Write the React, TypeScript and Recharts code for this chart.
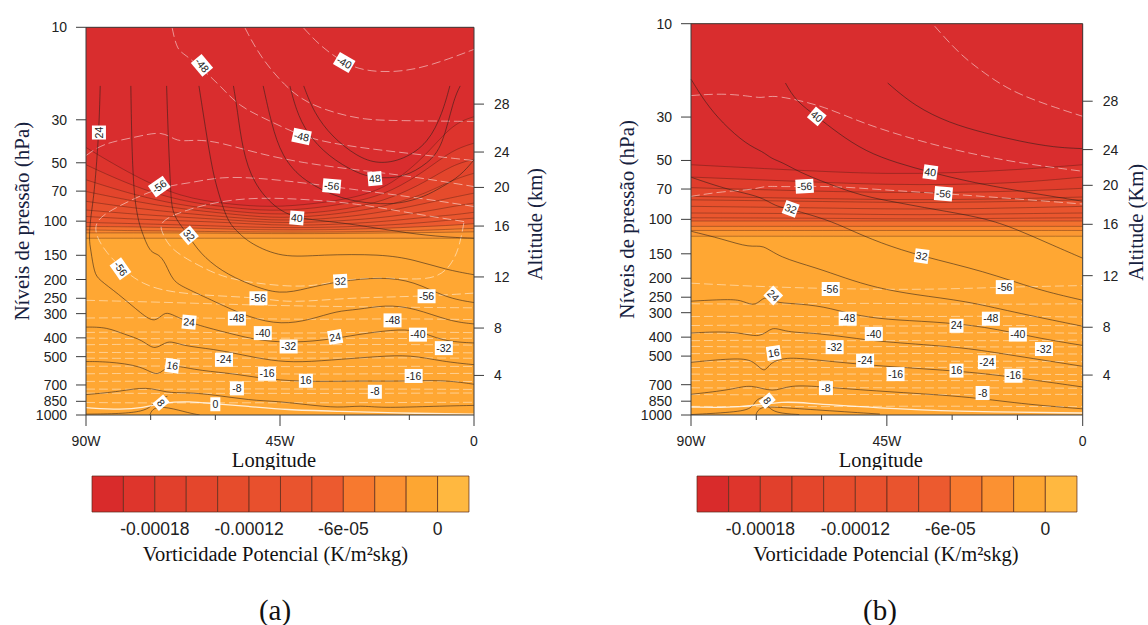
import * as React from 'react';
import { ComposedChart, BarChart, Area, Line, Bar, Cell, XAxis, YAxis } from 'recharts';

type Pt = [number, number];

const pressureTicks = [10, 30, 50, 70, 100, 150, 200, 250, 300, 400, 500, 700, 850, 1000];
const altitudeLabels = [4, 8, 12, 16, 20, 24, 28];
const altitudePressures = [625, 356, 194, 106, 67, 44, 24.9];
const lonTicks = [-90, -75, -60, -45, -30, -15, 0];
const lonNames: Record<number, string> = { [-90]: '90W', [-45]: '45W', 0: '0' };

const bandColors = ['#FB9832', '#F9862F', '#F3712F', '#EC5A2F', '#EA562E', '#E9542E', '#E7502D', '#E54B2C', '#E3452C', '#E03D2C', '#DD342D', '#D92D2E'];
const colorbarColors = ['#D92B2B', '#DE352C', '#E1402C', '#E4462C', '#E64C2C', '#E8502D', '#E9542E', '#EC5A2F', '#F7792F', '#FB9132', '#FDA632', '#FFB840'];
const colorbarLevels = [-0.00021, -0.00019, -0.00017, -0.00015, -0.00013, -0.00011, -0.00009, -0.00007, -0.00005, -0.00003, -0.00001, 0.00001];
const colorbarTicks = [-0.00018, -0.00012, -0.00006, 0];
const colorbarTickLabels = ['-0.00018', '-0.00012', '-6e-05', '0'];

// panel (a): PV band edges, listed deepest first
const bandLonA = [-90, -79, -68, -57, -47, -37, -27, -19, -11, -5, 0];
const bandsA = [
  [122.5, 122.5, 122.5, 122.5, 122.5, 122.5, 122.5, 122.5, 122.5, 122.5, 122.5],
  [115, 115, 115, 115.5, 116, 116, 115.5, 115, 114.5, 114, 113.5],
  [111, 112, 112.5, 113.5, 114, 114, 113.5, 112.5, 111.5, 110, 109],
  [106.5, 107, 108, 110, 111, 111, 110, 108.5, 106.5, 105, 103],
  [101.5, 103, 104.5, 106.5, 108, 108, 106.5, 104.5, 101.5, 98.4, 96.5],
  [94.6, 97.6, 99.6, 101.5, 105, 105, 102.5, 99.6, 95.3, 93, 90],
  [87.6, 92, 95.3, 98.4, 102, 101.5, 98.4, 94.6, 89, 84, 80.7],
  [79, 85.6, 90.9, 95.3, 99.2, 98.4, 93.8, 88, 80.7, 75.5, 71.7],
  [70.3, 79, 86.5, 91.6, 96.5, 94.6, 89, 82.3, 71.7, 61.2, 56.6],
  [61.2, 73.2, 83, 88.5, 92.7, 90.9, 85, 76, 62.4, 51.3, 47.9],
  [51.2, 66.3, 79, 85, 89, 86, 79.5, 70.3, 54.4, 42.9, 39.6],
  [41.7, 58.4, 75.5, 81.8, 85, 81.5, 75.5, 65, 45.5, 31.5, 28.9],
];

const thetaA: Pt[][] = [
  [[-86.7, 20.06], [-87, 34], [-87.7, 56.6], [-88.3, 77.6], [-89, 98.4], [-89.3, 124.8], [-88.9, 140], [-88.1, 185], [-87, 200.6], [-82.7, 235], [-76.9, 304], [-74, 335], [-71.9, 295], [-70.3, 300], [-66.1, 335], [-57, 378], [-49.1, 417], [-41.3, 423], [-33.8, 409], [-27.2, 385], [-18.9, 363], [-13.1, 363], [-7.3, 417], [0, 425]],
  [[-79.6, 20.06], [-79.4, 38.1], [-79.1, 56.6], [-78.7, 77.6], [-77.9, 98.4], [-77.2, 110.8], [-75.2, 146], [-73.2, 147], [-71.5, 165], [-69.9, 204], [-67, 221], [-60.3, 259], [-52, 316], [-44.6, 342], [-38, 323], [-31.7, 290], [-27.2, 287], [-20.6, 270], [-13.9, 280], [-5.6, 329], [0, 339]],
  [[-71.3, 20.06], [-70.9, 38.1], [-70.4, 66.3], [-70.1, 90.9], [-67.8, 106.5], [-66.1, 120], [-63.6, 146], [-58.7, 181], [-52, 213], [-45, 240], [-38.8, 222], [-31.3, 204], [-21.4, 194], [-13.9, 204], [-6.5, 249], [0, 263]],
  [[-63.8, 20.06], [-62.4, 31.9], [-60.6, 56.6], [-58.8, 77.6], [-57, 102], [-54.5, 115.3], [-52, 130], [-44.6, 155], [-35.5, 149], [-21.4, 148], [-13.9, 158], [-6.5, 178], [0, 189]],
  [[-55.8, 20.06], [-54.9, 26.6], [-53.7, 42.9], [-51.2, 63.8], [-46.2, 85.6], [-41.3, 96.6], [-33.8, 100], [-24.7, 106.5], [-15.6, 115.3], [-6.5, 121], [0, 122.5]],
  [[-48.9, 20.06], [-47, 31.4], [-44.6, 46.4], [-39.6, 62.4], [-30.5, 77.6], [-23, 81.5], [-17.2, 81.5], [-11.4, 74.8], [-7.3, 66.3], [-3.2, 58.6], [0, 48.3]],
  [[-42.7, 20.06], [-41.3, 26.6], [-38.8, 35.2], [-33.8, 46.4], [-27.2, 56.6], [-23, 60], [-16.4, 60], [-10.6, 50.2], [-7.3, 41.2], [-4.8, 23.7], [-3.2, 20.06]],
  [[-39.5, 20.06], [-37.1, 27.7], [-33, 36.6], [-27.2, 46.4], [-22.2, 50.9], [-16.4, 48.3], [-10.6, 39.6], [-7.3, 27.7], [-5.6, 20.06]],
  [[-90, 352], [-85.2, 352], [-81, 385], [-76.9, 409], [-74, 470], [-71.1, 406], [-67.8, 440], [-60.3, 457], [-53.7, 490], [-47, 525], [-40.4, 536], [-30.5, 515], [-22.2, 499], [-14.8, 489], [-7.3, 530], [0, 550]],
  [[-90, 530], [-85.2, 530], [-76.9, 557], [-73.2, 645], [-71.1, 540], [-65.3, 584], [-57, 608], [-52, 632], [-45.4, 663], [-35.5, 674], [-27.2, 666], [-17.2, 671], [-7.3, 658], [0, 694]],
  [[-90, 785], [-81.9, 756], [-76, 712], [-71.1, 771], [-67, 764], [-60.3, 786], [-52, 840], [-45.4, 850], [-38.8, 885], [-31.3, 920], [-26.4, 892], [-21.4, 920], [-10.6, 903], [0, 892]],
  [[-90, 990], [-81.9, 985], [-76.9, 958], [-74.8, 903], [-73.6, 834], [-71.1, 800]],
  [[-75.2, 1000], [-74.4, 910], [-71.1, 910], [-66.1, 977], [-63.6, 1000]],
];
const zeroLineA: Pt[] = [[-90, 917], [-81.9, 940], [-76.9, 920], [-71.9, 862], [-66.1, 850], [-60.3, 875], [-52, 903], [-43.8, 940], [-31.3, 958], [-18.9, 977], [0, 989]];

const pvDashA: Pt[][] = [
  [[-39.5, 10.1], [-35.5, 12.6], [-30.1, 15.3], [-25.5, 16.8], [-18.1, 17.1], [-10.6, 15.95], [0, 13]],
  [[-53.1, 10.1], [-49.6, 14.2], [-43.8, 20.2], [-38.8, 24.6], [-32.2, 27.7], [-25.5, 30], [-18.1, 30.3], [0, 30.6]],
  [[-70, 10.1], [-68.9, 13.1], [-67, 13.8], [-62.8, 16.6], [-58.7, 20.2], [-54.5, 25.6], [-47.9, 30], [-40, 36.6], [-31.3, 40.4], [-18.9, 43.8], [0, 48.7]],
  [[-90, 45.9], [-86, 39.6], [-78.6, 37], [-72.1, 34], [-69, 39.3], [-64.5, 37.8], [-58.7, 39.3], [-50.4, 44.6], [-39.6, 50.2], [-27.2, 54.4], [-14.8, 58.6], [0, 66.3]],
  [[0, 84], [-14.8, 74.8], [-27.2, 69], [-39.6, 63.3], [-49.6, 60], [-58.7, 58.8], [-66.1, 63.8], [-72.8, 66.3], [-81.9, 82.3], [-88.1, 98.4], [-87.7, 120], [-85.2, 146], [-81.9, 174], [-76.9, 213], [-70.3, 233], [-60.3, 243], [-50, 248], [-43.8, 262], [-35.5, 256], [-27.2, 248], [-11, 244], [0, 235]],
  [[-2.3, 100.5], [-14.8, 90.9], [-27.2, 81], [-39.6, 77], [-49.6, 75.5], [-58.7, 78.5], [-67, 87.6], [-73.2, 100.5], [-72.3, 115.3], [-70.3, 141], [-63.6, 171], [-57, 200.6], [-44.6, 217], [-37.1, 217], [-30.5, 200.6], [-20.6, 194], [-9, 205], [-4.8, 164], [-3.2, 130], [-2.3, 100.5]],
];

const dashLon = [-90, -72, -54, -36, -18, 0];
const lowDashA = [
  [256, 262, 270, 275, 278, 280],
  [316, 314, 318, 322, 318, 322],
  [375, 372, 378, 378, 372, 376],
  [401, 405, 403, 400, 404, 402],
  [434, 430, 436, 434, 432, 436],
  [475, 478, 472, 476, 474, 478],
  [509, 512, 508, 510, 506, 510],
  [561, 558, 562, 564, 560, 562],
  [613, 608, 612, 616, 612, 610],
  [671, 668, 672, 670, 666, 672],
  [735, 738, 732, 736, 734, 738],
  [771, 775, 772, 776, 772, 770],
  [862, 868, 864, 866, 862, 860],
];

// lon, pressure, text, rotation
const labelsA: [number, number, string, number][] = [
  [-63.1, 15.7, '-48', 50], [-30.1, 15.2, '-40', 30], [-87, 34.9, '24', -90], [-40, 36.6, '-48', 12],
  [-23, 60.4, '48', -5], [-33, 65.8, '-56', 5], [-73, 66.3, '-56', -35], [-41.1, 96.3, '40', 5],
  [-66.1, 118.5, '32', 50], [-82, 176, '-56', 55], [-31, 204, '32', -3], [-50, 250, '-56', 0],
  [-11, 244, '-56', 0], [-55, 318, '-48', 0], [-18.9, 325, '-48', 0], [-66.1, 332, '24', 5],
  [-32.2, 396, '24', -10], [-49, 378, '-40', 0], [-13, 385, '-40', 0], [-43, 443, '-32', 0],
  [-7, 452, '-32', 0], [-58, 519, '-24', 0], [-70, 557, '16', 8], [-48, 613, '-16', 0],
  [-14, 629, '-16', 0], [-39, 666, '16', 0], [-55, 729, '-8', 0], [-23, 759, '-8', 0],
  [-72.6, 865, '8', 50], [-60, 880, '0', 0],
];

// panel (b)
const bandLonB = [-90, -60, -45, -30, -15, 0];
const bandsB = [
  [122, 122, 122, 122, 122, 122],
  [114, 114, 114, 114, 114, 114],
  [108.6, 108.6, 108.6, 108.6, 108.6, 108.6],
  [102, 102, 102, 102, 102, 102],
  [98.2, 98.6, 99.5, 99.5, 98.6, 98.2],
  [92.8, 93.5, 94.7, 94.7, 93.5, 92.8],
  [85.8, 87.4, 88.6, 88.6, 87.4, 85.8],
  [79.5, 81, 82, 82, 81, 79.5],
  [76.3, 78.4, 79.3, 79.3, 78.4, 76.9],
  [68.9, 72, 72.9, 72.9, 72, 69.4],
  [60.8, 64.7, 66.5, 66.5, 65.2, 60.8],
  [52.6, 57, 58.6, 58, 55.8, 52.6],
];

const thetaB: Pt[][] = [
  [[-44.8, 20.1], [-38.6, 26.4], [-30.6, 32.2], [-22.6, 36.2], [-14.5, 39.9], [-6.5, 42.9], [0, 43.5]],
  [[-68.3, 20.1], [-65.9, 24.9], [-61.1, 29.75], [-56.3, 36.2], [-49.9, 45], [-42.6, 51.6], [-35, 57.4], [-26.6, 63.9], [-14.5, 71.8], [0, 80.8]],
  [[-90, 19.2], [-86.8, 25.1], [-82.8, 32.2], [-77.2, 41.5], [-73.5, 45], [-71.5, 49], [-69.1, 51], [-65.1, 57.4], [-58.7, 65.5], [-50.7, 76], [-42.6, 82], [-34.6, 88.6], [-22.6, 98.2], [-15.3, 112], [-8.1, 132], [0, 158]],
  [[-90, 60.9], [-81.2, 71], [-73.9, 76.3], [-70.7, 85.8], [-67.1, 88.6], [-58.7, 100.4], [-53.9, 112], [-46.6, 132], [-37, 154.6], [-22.6, 184], [-10.5, 229], [0, 259]],
  [[-90, 115], [-82.8, 126], [-76.3, 140], [-73.5, 134], [-69.9, 156], [-61.1, 177], [-54.7, 199.5], [-47.4, 224], [-38.6, 243], [-26.6, 262], [-16.9, 295], [0, 352]],
  [[-90, 262], [-80.4, 255], [-78, 262], [-75.1, 280], [-73.1, 243], [-70.7, 267], [-66.7, 269], [-59.5, 278], [-53, 307], [-45, 326], [-34.6, 333], [-22.6, 352], [-10.5, 404], [0, 441]],
  [[-90, 381], [-79.6, 371], [-73.9, 409], [-71.5, 349], [-68.3, 378], [-61.1, 381], [-53, 404], [-45, 425], [-28.2, 449], [-18.5, 486], [0, 564]],
  [[-90, 538], [-78.8, 509], [-75.5, 530], [-73.1, 615], [-72, 542], [-68.3, 505], [-61.9, 521], [-46.6, 564], [-26.6, 598], [-14.5, 647], [0, 719]],
  [[-90, 784], [-80.4, 742], [-76.3, 694], [-71.1, 772], [-67.5, 699], [-59.5, 719], [-46.6, 757], [-26.6, 803], [-14.5, 876], [0, 930]],
  [[-90, 995], [-78.8, 965], [-75.9, 920], [-75.1, 835], [-73.5, 812]],
  [[-75.1, 1000], [-74.3, 903], [-69.9, 913], [-62.7, 937], [-46.6, 989]],
  [[-72.3, 903], [-70.7, 977], [-65.1, 995]],
];
const zeroLineB: Pt[] = [[-90, 910], [-78.8, 920], [-68.3, 845], [-62.7, 876], [-46.6, 920], [-30.6, 958], [0, 977]];

const pvDashB: Pt[][] = [
  [[-34, 10.3], [-28.2, 14.4], [-22.6, 17.9], [-15.3, 23.1], [0, 29.75]],
  [[-90, 23.3], [-82.8, 22.7], [-76.3, 23.5], [-73.9, 24], [-71.5, 23.3], [-67.5, 24], [-59.5, 26.4], [-50.7, 32.2], [-38.6, 39.2], [-26.6, 45.8], [-14.5, 51.6], [0, 56.8]],
  [[-90, 76.3], [-82.8, 72], [-75.5, 70.5], [-73.1, 67.3], [-68.3, 68.4], [-58.7, 67.3], [-46.6, 70.5], [-34.6, 73.3], [-22.6, 76.3], [0, 83.5]],
];
const lowDashB = [
  [212, 222, 227, 229, 222, 218],
  [270, 272, 268, 270, 272, 270],
  [314, 312, 316, 314, 312, 316],
  [349, 346, 350, 352, 348, 350],
  [381, 384, 380, 382, 378, 382],
  [417, 414, 418, 416, 418, 414],
  [446, 450, 448, 446, 450, 448],
  [486, 482, 488, 484, 486, 488],
  [530, 534, 528, 532, 530, 534],
  [572, 568, 574, 570, 572, 568],
  [618, 622, 616, 620, 618, 622],
  [668, 664, 670, 666, 668, 666],
  [726, 730, 724, 728, 726, 730],
  [786, 790, 784, 788, 786, 784],
  [903, 908, 905, 900, 904, 906],
];

const labelsB: [number, number, string, number][] = [
  [-61.1, 29.75, '40', 40], [-35, 57.4, '40', 8], [-63.9, 67.8, '-56', -3], [-32, 74, '-56', 5],
  [-67.1, 88.4, '32', 20], [-37, 154, '32', 8], [-57.9, 227, '-56', 0], [-17.9, 222, '-56', 0],
  [-71.1, 245, '24', 45], [-54, 322, '-48', 0], [-21.1, 322, '-48', 0], [-29, 350, '24', 0],
  [-48, 385, '-40', 0], [-14.9, 388, '-40', 0], [-57, 450, '-32', 0], [-8.9, 460, '-32', 0],
  [-71, 482, '16', -8], [-50, 527, '-24', 0], [-22, 538, '-24', 0], [-29, 593, '16', 0],
  [-43, 618, '-16', 0], [-15.9, 630, '-16', 0], [-59, 729, '-8', 0], [-23, 772, '-8', 0],
  [-72.5, 845, '8', 50],
];

const AXIS = '#3c3c3c';
const SANS = '"Liberation Sans", Arial, sans-serif';
const SERIF = '"Liberation Serif", serif';
const tickStyle = { fontFamily: SANS, fontSize: 14, fill: '#222' };

const toPts = (pts: Pt[]) => pts.map(([lon, p]) => ({ lon, p }));
const zipPts = (lons: number[], ps: number[]) => ps.map((p, i) => ({ lon: lons[i], p }));

function LeftTick({ x, y, payload }: any) {
  return (
    <g>
      <line x1={x} x2={x - 10} y1={y} y2={y} stroke={AXIS} />
      <text x={x - 19} y={y} dy="0.36em" textAnchor="end" {...tickStyle}>{payload.value}</text>
    </g>
  );
}

function RightTick({ x, y, index }: any) {
  return (
    <g>
      <line x1={x} x2={x + 10} y1={y} y2={y} stroke={AXIS} />
      <text x={x + 20} y={y} dy="0.36em" {...tickStyle}>{altitudeLabels[index]}</text>
    </g>
  );
}

function BottomTick({ x, y, payload }: any) {
  const name = lonNames[payload.value];
  return (
    <g>
      <line x1={x} x2={x} y1={y} y2={y + (name ? 11 : 5)} stroke={AXIS} />
      {name && <text x={x} y={y + 31} textAnchor="middle" {...tickStyle}>{name}</text>}
    </g>
  );
}

function TopTick({ x, y, payload }: any) {
  return <line x1={x} x2={x} y1={y} y2={y - (lonNames[payload.value] ? 10 : 5)} stroke={AXIS} />;
}

function ContourLabel({ cx, cy, payload }: any) {
  const w = payload.text.length > 2 ? 18 : payload.text.length > 1 ? 14 : 10;
  return (
    <g transform={`rotate(${payload.angle} ${cx} ${cy})`}>
      <rect x={cx - w / 2} y={cy - 7} width={w} height={14} fill="#fff" />
      <text x={cx} y={cy} dy="0.35em" textAnchor="middle" fontFamily={SANS} fontSize={10.5} fill="#222">{payload.text}</text>
    </g>
  );
}

interface PanelProps {
  left: number;
  width: number;
  top: number;
  plotLeft: number;
  plotRight: number;
  altitudeTitle: string;
  altitudeDx: number;
  bandLon: number[];
  bands: number[][];
  theta: Pt[][];
  zeroLine: Pt[];
  pvDash: Pt[][];
  lowDash: number[][];
  labels: [number, number, string, number][];
}

function ContourPanel(props: PanelProps) {
  const { left, width, top, plotLeft, plotRight, altitudeTitle, altitudeDx, bandLon, bands, theta, zeroLine, pvDash, lowDash, labels } = props;
  const labelData = labels.map(([lon, p, text, angle]) => ({ lon, p, text, angle }));
  return (
    <div style={{ position: 'absolute', left, top: 0 }}>
      <ComposedChart
        width={width}
        height={470}
        margin={{ top: top - 12, left: plotLeft - 50, right: width - plotRight - 50, bottom: 25 }}
      >
        <XAxis
          dataKey="lon" type="number" domain={[-90, 0]} ticks={lonTicks} interval={0}
          height={30} tickSize={0} tickMargin={0} tick={<BottomTick />} stroke={AXIS}
          label={{ value: 'Longitude', position: 'center', dy: 30, dx: -6, style: { fontFamily: SERIF, fontSize: 20.5, fill: '#111' } }}
        />
        <XAxis
          xAxisId="top" orientation="top" type="number" domain={[-90, 0]} ticks={lonTicks} interval={0}
          height={12} tickSize={0} tickMargin={0} tick={<TopTick />} stroke={AXIS}
        />
        <YAxis
          type="number" scale="log" domain={[10, 1000]} reversed ticks={pressureTicks} interval={0}
          width={50} tickSize={0} tickMargin={0} tick={<LeftTick />} stroke={AXIS} allowDataOverflow
          label={{ value: 'Níveis de pressão (hPa)', angle: -90, position: 'center', dx: -39, style: { fontFamily: SERIF, fontSize: 21, fill: '#16213e' } }}
        />
        <YAxis
          yAxisId="right" orientation="right" type="number" scale="log" domain={[10, 1000]} reversed
          ticks={altitudePressures} interval={0} width={50} tickSize={0} tickMargin={0}
          tick={<RightTick />} stroke={AXIS} allowDataOverflow
          label={{ value: altitudeTitle, angle: -90, position: 'center', dx: altitudeDx, dy: 3, style: { fontFamily: SERIF, fontSize: 20.5, fill: '#16213e' } }}
        />

        <Area data={zipPts([-90, 0], [1000, 1000])} dataKey="p" baseValue={10} fill="#FFA733" fillOpacity={1} stroke="none" dot={false} activeDot={false} isAnimationActive={false} />
        {bands.map((ps, i) => (
          <Area key={`band${i}`} data={zipPts(bandLon, ps)} dataKey="p" baseValue={10} type="basis" fill={bandColors[i]} fillOpacity={1} stroke="none" dot={false} activeDot={false} isAnimationActive={false} />
        ))}
        {bands.map((ps, i) => (
          <Line key={`edge${i}`} data={zipPts(bandLon, ps)} dataKey="p" type="basis" stroke="#3a1a12" strokeOpacity={0.45} strokeWidth={0.8} dot={false} activeDot={false} isAnimationActive={false} />
        ))}
        {pvDash.map((pts, i) => (
          <Line key={`pv${i}`} data={toPts(pts)} dataKey="p" type="basis" stroke="#fff" strokeOpacity={0.5} strokeWidth={1} strokeDasharray="9 4" dot={false} activeDot={false} isAnimationActive={false} />
        ))}
        {lowDash.map((ps, i) => (
          <Line key={`low${i}`} data={zipPts(dashLon, ps)} dataKey="p" type="basis" stroke="#fff" strokeOpacity={0.45} strokeWidth={1} strokeDasharray="9 4" dot={false} activeDot={false} isAnimationActive={false} />
        ))}
        {theta.map((pts, i) => (
          <Line key={`th${i}`} data={toPts(pts)} dataKey="p" type="basis" stroke="#2a1f1a" strokeOpacity={0.7} strokeWidth={0.8} dot={false} activeDot={false} isAnimationActive={false} />
        ))}
        <Line data={toPts(zeroLine)} dataKey="p" type="basis" stroke="#fff" strokeOpacity={0.8} strokeWidth={1.3} dot={false} activeDot={false} isAnimationActive={false} />
        <Line
          data={labelData} dataKey="p" stroke="none" activeDot={false} isAnimationActive={false}
          dot={(d: any) => <ContourLabel key={d.index} {...d} />}
        />
      </ComposedChart>
    </div>
  );
}

function ColorBar({ left, barWidth, titleDx }: { left: number; barWidth: number; titleDx: number }) {
  const data = colorbarLevels.map((level) => ({ level, v: 1 }));
  return (
    <div style={{ position: 'absolute', left, top: 470 }}>
      <BarChart width={barWidth + 60} height={110} data={data} margin={{ top: 6, left: 30, right: 30, bottom: 32 }}>
        <XAxis
          dataKey="level" type="number" domain={[-0.00022, 0.00002]} ticks={colorbarTicks} interval={0} height={36}
          tickLine={false} axisLine={false} tickMargin={5} tick={{ fontFamily: SANS, fontSize: 17.5, fill: '#222' }}
          tickFormatter={(_v: number, i: number) => colorbarTickLabels[i]}
          label={{ value: 'Vorticidade Potencial (K/m²skg)', position: 'center', dy: 24, dx: titleDx, style: { fontFamily: SERIF, fontSize: 20.5, fill: '#111' } }}
        />
        <YAxis hide domain={[0, 1]} />
        {/* barSize has to stay just under the band size or recharts shrinks the bar to 90% */}
        <Bar dataKey="v" barSize={barWidth / 12 - 0.02} stroke="#5a2a1a" strokeOpacity={0.7} strokeWidth={1} isAnimationActive={false}>
          {colorbarColors.map((c) => <Cell key={c} fill={c} />)}
        </Bar>
      </BarChart>
    </div>
  );
}

const caption: React.CSSProperties = { position: 'absolute', top: 594, fontFamily: SERIF, fontSize: 29, color: '#111', transform: 'translateX(-50%)' };

export default function App() {
  return (
    <div style={{ position: 'absolute', left: 0, top: 0, width: 1148, height: 625, background: '#fff', overflow: 'hidden' }}>
      <ContourPanel left={0} width={560} top={27.3} plotLeft={86} plotRight={474} altitudeTitle="Altitude (km)" altitudeDx={36}
        bandLon={bandLonA} bands={bandsA} theta={thetaA} zeroLine={zeroLineA} pvDash={pvDashA} lowDash={lowDashA} labels={labelsA} />
      <ContourPanel left={600} width={548} top={23.7} plotLeft={91} plotRight={482.7} altitudeTitle="Altitude (Km)" altitudeDx={28}
        bandLon={bandLonB} bands={bandsB} theta={thetaB} zeroLine={zeroLineB} pvDash={pvDashB} lowDash={lowDashB} labels={labelsB} />
      <ColorBar left={62} barWidth={377} titleDx={-5} />
      <ColorBar left={667} barWidth={380} titleDx={-1} />
      <div style={{ ...caption, left: 275 }}>(a)</div>
      <div style={{ ...caption, left: 880 }}>(b)</div>
    </div>
  );
}
